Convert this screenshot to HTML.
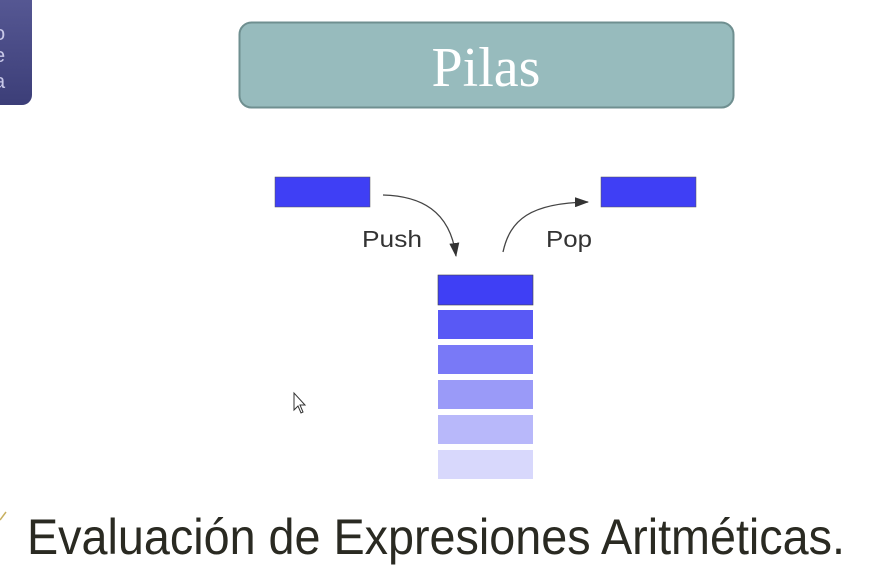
<!DOCTYPE html>
<html><head><meta charset="utf-8"><style>
html,body{margin:0;padding:0;background:#fff;}
body{width:876px;height:575px;overflow:hidden;position:relative;}
</style></head><body>
<svg width="876" height="575" viewBox="0 0 876 575" xmlns="http://www.w3.org/2000/svg" style="position:absolute;left:0;top:0">
<defs>
<linearGradient id="nav" x1="0" y1="0" x2="0" y2="1"><stop offset="0" stop-color="#5a5c98"/><stop offset="1" stop-color="#3c3e78"/></linearGradient>
<marker id="ah" markerWidth="14" markerHeight="10" refX="13" refY="5" orient="auto" markerUnits="userSpaceOnUse"><path d="M0,0 L14,5 L0,10 Z" fill="#333"/></marker>
</defs>
<rect x="-20" y="-20" width="52" height="125" rx="10" fill="url(#nav)"/>
<text x="-6" y="40" font-family="Liberation Sans, sans-serif" font-size="20" fill="#c8c8e8">o</text>
<text x="-6" y="62" font-family="Liberation Sans, sans-serif" font-size="20" fill="#c8c8e8">e</text>
<text x="-6" y="88" font-family="Liberation Sans, sans-serif" font-size="20" fill="#c8c8e8">a</text>
<rect x="239.5" y="22.5" width="494" height="85" rx="12" fill="#97bbbd" stroke="#6f8f90" stroke-width="2"/>
<text x="486" y="86" text-anchor="middle" font-family="Liberation Serif, serif" font-size="56" fill="#fff">Pilas</text>
<rect x="275" y="177" width="95" height="30" fill="#3f3ff5" stroke="#555" stroke-width="0.5"/>
<rect x="601" y="177" width="95" height="30" fill="#3f3ff5" stroke="#555" stroke-width="0.5"/>
<path d="M383,195 C420,196 450,210 456,256" fill="none" stroke="#444" stroke-width="1.3" marker-end="url(#ah)"/>
<path d="M503,252 C510,220 530,203 588,202" fill="none" stroke="#444" stroke-width="1.3" marker-end="url(#ah)"/>
<text x="362" y="247" textLength="60" lengthAdjust="spacingAndGlyphs" font-family="Liberation Sans, sans-serif" font-size="23" fill="#333">Push</text>
<text x="546" y="247" textLength="46" lengthAdjust="spacingAndGlyphs" font-family="Liberation Sans, sans-serif" font-size="23" fill="#333">Pop</text>
<rect x="438" y="275" width="95" height="30" fill="#3f3ff5" stroke="#444" stroke-width="0.6"/>
<rect x="438" y="310" width="95" height="29" fill="#5959f5"/>
<rect x="438" y="345" width="95" height="29" fill="#7979f7"/>
<rect x="438" y="380" width="95" height="29" fill="#9a9af8"/>
<rect x="438" y="415" width="95" height="29" fill="#b8b8fa"/>
<rect x="438" y="450" width="95" height="29" fill="#d8d8fc"/>
<path d="M294,393 L294,410 L298,406 L301,413 L303,412 L300,405 L305,405 Z" fill="#fff" stroke="#333" stroke-width="1"/>
<text x="27" y="554" textLength="818" lengthAdjust="spacingAndGlyphs" font-family="Liberation Sans, sans-serif" font-size="50" fill="#2a2a22">Evaluación de Expresiones Aritméticas.</text>
<path d="M0,520 L6,512" stroke="#c8b060" stroke-width="1.5"/>
</svg>
</body></html>
